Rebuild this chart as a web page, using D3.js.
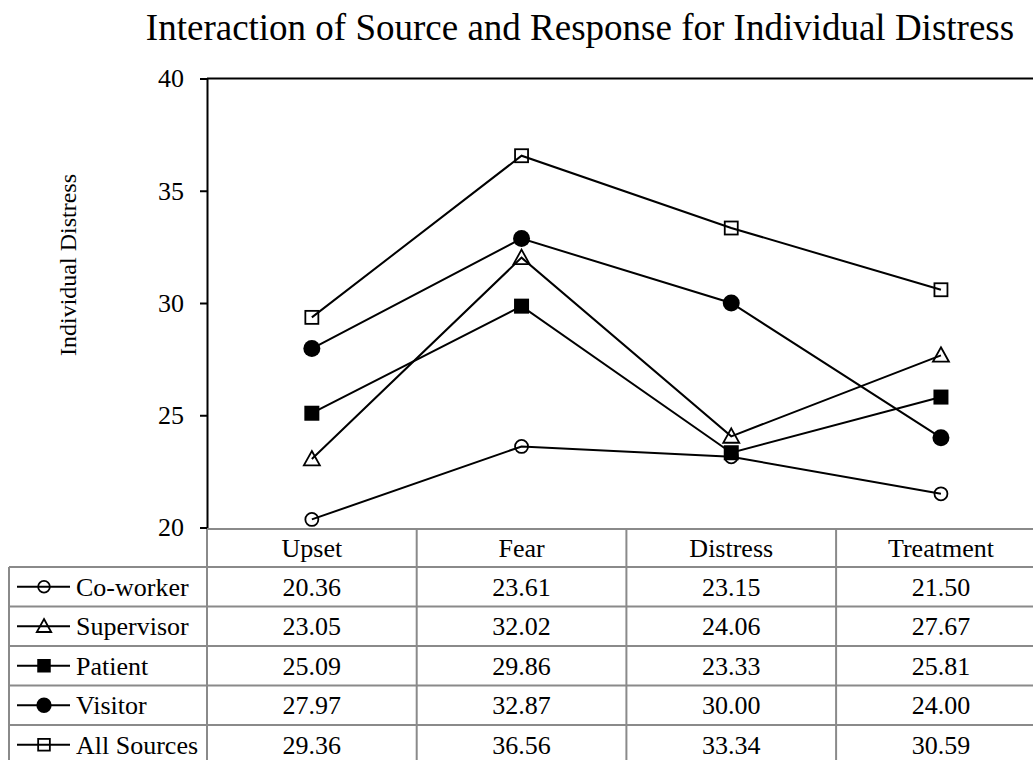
<!DOCTYPE html>
<html>
<head>
<meta charset="utf-8">
<script src="https://cdn.jsdelivr.net/npm/d3@7"></script>
<style>
  html, body { margin: 0; padding: 0; background: #fff; }
  svg { display: block; }
  text { font-family: "Liberation Serif", "Times New Roman", serif; fill: #000; }
</style>
</head>
<body>
<svg id="chart" width="1033" height="760"></svg>
<script>
// Response categories (x axis / table columns)
const categories = ["Upset", "Fear", "Distress", "Treatment"];

// Source series, in table order
const seriesNames = ["Co-worker", "Supervisor", "Patient", "Visitor", "All Sources"];
const coWorker   = [20.36, 23.61, 23.15, 21.50];
const supervisor = [23.05, 32.02, 24.06, 27.67];
const patient    = [25.09, 29.86, 23.33, 25.81];
const visitor    = [27.97, 32.87, 30.00, 24.00];
const allSources = [29.36, 36.56, 33.34, 30.59];
const seriesValues = [coWorker, supervisor, patient, visitor, allSources];

// Marker style per series
const markerTypes = ["circleOpen", "triangleOpen", "squareFilled", "circleFilled", "squareOpen"];

const yTicks = [20, 25, 30, 35, 40];
const yLabel = "Individual Distress";
const title = "Interaction of Source and Response for Individual Distress";

const svg = d3.select("#chart");

const plotLeft = 207, plotTop = 78.5, plotBottom = 527.5;
const bandW = 209.7;
const fontMain = "26px";

const x = d3.scaleBand()
  .domain(categories)
  .range([plotLeft, plotLeft + bandW * categories.length])
  .paddingInner(0).paddingOuter(0);

const y = d3.scaleLinear().domain([20, 40]).range([plotBottom, plotTop]);

// Title
svg.append("text")
  .attr("x", 580).attr("y", 40)
  .attr("text-anchor", "middle")
  .style("font-size", "37px")
  .text(title);

// Y axis title
svg.append("text")
  .attr("transform", `translate(76, 265) rotate(-90)`)
  .attr("text-anchor", "middle")
  .style("font-size", "24px")
  .text(yLabel);

// Y axis
const yAxis = d3.axisLeft(y).tickValues(yTicks).tickSize(7).tickPadding(16).tickSizeOuter(0);
const gy = svg.append("g").attr("transform", `translate(${plotLeft},0)`).call(yAxis);
gy.select(".domain").attr("stroke", "#000").attr("stroke-width", 2);
gy.selectAll(".tick line").attr("stroke", "#000").attr("stroke-width", 2);
gy.selectAll(".tick text")
  .style("font-family", '"Liberation Serif", "Times New Roman", serif')
  .style("font-size", fontMain).attr("fill", "#000");

// Top border of plot area
svg.append("line")
  .attr("x1", plotLeft).attr("x2", 1033)
  .attr("y1", plotTop).attr("y2", plotTop)
  .attr("stroke", "#000").attr("stroke-width", 2);

// Data table below the plot
const rowH = 39.5;
const headerTop = plotBottom + 1.5;
const headerH = 38;
const tableLeft = 9;
const rowTop = i => headerTop + headerH + i * rowH;
const grid = svg.append("g").attr("stroke", "#8a8a8a").attr("stroke-width", 2);

// horizontal grid lines
grid.append("line").attr("x1", plotLeft).attr("x2", 1033).attr("y1", headerTop).attr("y2", headerTop);
seriesNames.forEach((_, i) => {
  grid.append("line").attr("x1", tableLeft).attr("x2", 1033)
    .attr("y1", rowTop(i)).attr("y2", rowTop(i));
});
// vertical grid lines
grid.append("line").attr("x1", tableLeft).attr("x2", tableLeft)
  .attr("y1", rowTop(0)).attr("y2", 760);
categories.forEach(c => {
  grid.append("line").attr("x1", x(c)).attr("x2", x(c))
    .attr("y1", headerTop).attr("y2", 760);
});
grid.append("line").attr("x1", x.range()[1]).attr("x2", x.range()[1])
  .attr("y1", headerTop).attr("y2", 760);

// header labels
svg.selectAll("text.hdr").data(categories).join("text")
  .attr("class", "hdr")
  .attr("x", d => x(d) + x.bandwidth() / 2)
  .attr("y", headerTop + headerH / 2 + 9)
  .attr("text-anchor", "middle")
  .style("font-size", fontMain)
  .text(d => d);

// value cells
seriesValues.forEach((vals, i) => {
  svg.selectAll(null).data(vals).join("text")
    .attr("x", (d, j) => x(categories[j]) + x.bandwidth() / 2)
    .attr("y", rowTop(i) + rowH / 2 + 9)
    .attr("text-anchor", "middle")
    .style("font-size", fontMain)
    .text(d => d.toFixed(2));
});

// Marker drawing
function drawMarker(g, type, cx, cy, scale) {
  const s = scale || 1;
  if (type === "circleOpen") {
    g.append("circle").attr("cx", cx).attr("cy", cy).attr("r", 6.5 * s)
      .attr("fill", "none").attr("stroke", "#000").attr("stroke-width", 1.8);
  } else if (type === "circleFilled") {
    g.append("circle").attr("cx", cx).attr("cy", cy).attr("r", 8.5 * s)
      .attr("fill", "#000");
  } else if (type === "squareFilled") {
    const h = 7.5 * s;
    g.append("rect").attr("x", cx - h).attr("y", cy - h).attr("width", 2 * h).attr("height", 2 * h)
      .attr("fill", "#000");
  } else if (type === "squareOpen") {
    const h = 6.5 * s;
    g.append("rect").attr("x", cx - h).attr("y", cy - h).attr("width", 2 * h).attr("height", 2 * h)
      .attr("fill", "none").attr("stroke", "#000").attr("stroke-width", 1.8);
  } else if (type === "triangleOpen") {
    const h = 8 * s;
    g.append("path")
      .attr("d", `M${cx},${cy - h}L${cx + h},${cy + h * 0.8}L${cx - h},${cy + h * 0.8}Z`)
      .attr("fill", "none").attr("stroke", "#000").attr("stroke-width", 1.8).attr("stroke-linejoin", "miter");
  }
}

// Legend keys inside the table
seriesNames.forEach((name, i) => {
  const cy = rowTop(i) + rowH / 2;
  const g = svg.append("g");
  g.append("line").attr("x1", 17).attr("x2", 70).attr("y1", cy).attr("y2", cy)
    .attr("stroke", "#000").attr("stroke-width", 2);
  drawMarker(g, markerTypes[i], 44, cy, 0.9);
  svg.append("text").attr("x", 76).attr("y", cy + 9)
    .style("font-size", fontMain).text(name);
});

// Series lines and markers
const line = d3.line()
  .x((d, j) => x(categories[j]) + x.bandwidth() / 2)
  .y(d => y(d));

seriesValues.forEach((vals, i) => {
  const g = svg.append("g");
  g.append("path").datum(vals).attr("d", line)
    .attr("fill", "none").attr("stroke", "#000").attr("stroke-width", 2);
  vals.forEach((v, j) => {
    drawMarker(g, markerTypes[i], x(categories[j]) + x.bandwidth() / 2, y(v), 1);
  });
});
</script>
</body>
</html>
